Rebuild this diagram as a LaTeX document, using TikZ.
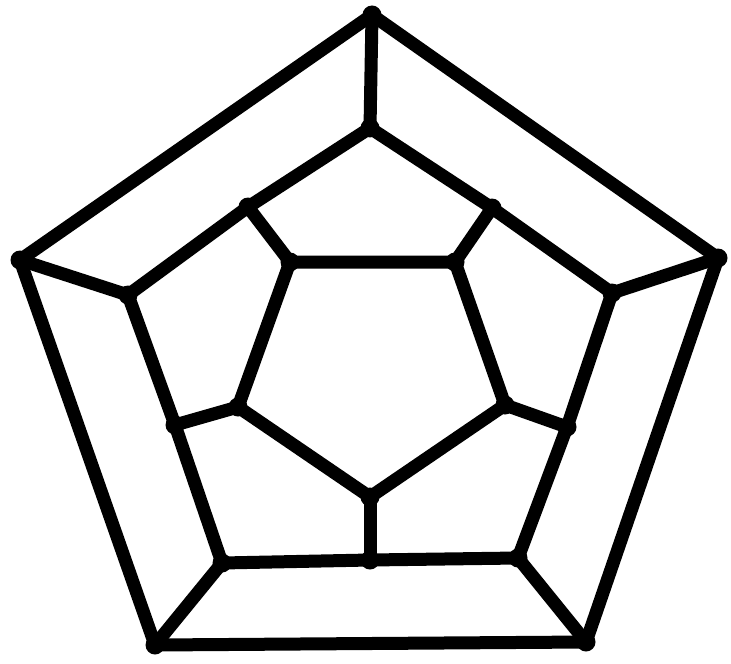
\documentclass[tikz,border=0pt]{standalone}
\begin{document}
\begin{tikzpicture}[x=0.5pt,y=-0.5pt,
  edge/.style={line width=6.5pt,line cap=round,line join=round,black},
  vtx/.style={circle,fill=black,inner sep=0pt,minimum size=9.5pt}]
\useasboundingbox (0,0) rectangle (731,663);
% outer
\node[vtx] (o1) at (372,15) {};
\node[vtx] (o2) at (718,258) {};
\node[vtx] (o3) at (586,642) {};
\node[vtx] (o4) at (155,645) {};
\node[vtx] (o5) at (20,260) {};
% middle ring
\node[vtx] (m1) at (370,128) {};
\node[vtx] (m2) at (492,208) {};
\node[vtx] (m3) at (612,293) {};
\node[vtx] (m4) at (567,427) {};
\node[vtx] (m5) at (518,558) {};
\node[vtx] (m6) at (370,560) {};
\node[vtx] (m7) at (222,563) {};
\node[vtx] (m8) at (175,425) {};
\node[vtx] (m9) at (128,295) {};
\node[vtx] (m10) at (248,207) {};
% inner
\node[vtx] (i1) at (290,262) {};
\node[vtx] (i2) at (455,262) {};
\node[vtx] (i3) at (505,405) {};
\node[vtx] (i4) at (370,497) {};
\node[vtx] (i5) at (238,407) {};
\draw[edge] (o1.center) -- (o2.center) -- (o3.center) -- (o4.center) -- (o5.center) -- cycle;
\draw[edge] (o1.center) -- (m1.center);
\draw[edge] (o2.center) -- (m3.center);
\draw[edge] (o3.center) -- (m5.center);
\draw[edge] (o4.center) -- (m7.center);
\draw[edge] (o5.center) -- (m9.center);
\draw[edge] (m1.center) -- (m2.center) -- (m3.center) -- (m4.center) -- (m5.center) -- (m6.center) -- (m7.center) -- (m8.center) -- (m9.center) -- (m10.center) -- cycle;
\draw[edge] (m2.center) -- (i2.center);
\draw[edge] (m4.center) -- (i3.center);
\draw[edge] (m6.center) -- (i4.center);
\draw[edge] (m8.center) -- (i5.center);
\draw[edge] (m10.center) -- (i1.center);
\draw[edge] (i1.center) -- (i2.center) -- (i3.center) -- (i4.center) -- (i5.center) -- cycle;
\end{tikzpicture}
\end{document}
